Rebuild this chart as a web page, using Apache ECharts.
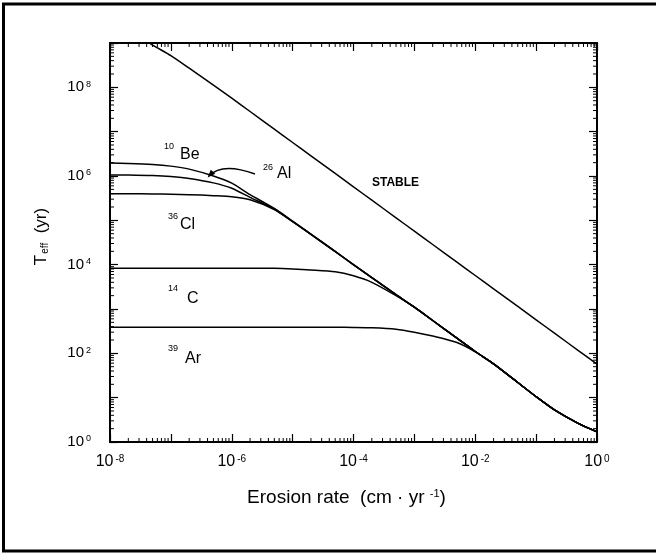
<!DOCTYPE html>
<html lang="en">
<head>
<meta charset="utf-8">
<title>Effective exposure time vs erosion rate</title>
<script src="https://cdn.jsdelivr.net/npm/echarts@6/dist/echarts.min.js"></script>
<style>
    html, body { margin: 0; padding: 0; background: #fff; }
    #main { width: 656px; height: 556px; }
</style>
</head>
<body>
<div id="main"></div>
<script type="text/javascript">

    // erosion rate, cm/yr
    var erosion = [1e-8, 2e-8, 5e-8, 1e-7, 2e-7, 5e-7, 1e-6, 2e-6, 5e-6, 1e-5, 2e-5, 5e-5,
                   1e-4, 2e-4, 5e-4, 1e-3, 2e-3, 5e-3, 1e-2, 2e-2, 5e-2, 0.1, 0.2, 0.5, 1];

    // T_eff (yr) at each erosion rate
    var stable = [3.5e9, 2.0e9, 9.0e8, 5.2e8, 2.7e8, 1.12e8, 5.7e7, 2.85e7, 1.14e7, 5.7e6, 2.85e6, 1.14e6,
                  5.7e5, 2.85e5, 1.14e5, 5.7e4, 2.85e4, 1.14e4, 5700, 2850, 1140, 570, 285, 114, 57];
    var be10 = [1.96e6, 1.92e6, 1.82e6, 1.67e6, 1.43e6, 1.0e6, 6.9e5, 3.8e5, 1.85e5, 9.6e4, 4.9e4, 2.0e4,
                1.0e4, 5.1e3, 2.1e3, 1.1e3, 550, 220, 110, 58, 22, 10.5, 5.3, 2.6, 1.7];
    var al26 = [1.06e6, 1.05e6, 1.02e6, 9.7e5, 8.8e5, 7.0e5, 5.3e5, 3.3e5, 1.8e5, 9.4e4, 4.85e4, 2.0e4,
                1.0e4, 5.1e3, 2.1e3, 1.1e3, 550, 220, 110, 58, 22, 10.5, 5.3, 2.6, 1.7];
    var cl36 = [3.98e5, 3.97e5, 3.93e5, 3.88e5, 3.8e5, 3.6e5, 3.4e5, 2.9e5, 1.75e5, 9.3e4, 4.8e4, 1.97e4,
                9.9e3, 5.1e3, 2.1e3, 1.1e3, 550, 220, 110, 58, 22, 10.5, 5.3, 2.6, 1.7];
    var c14 = [8300, 8300, 8300, 8300, 8300, 8300, 8300, 8300, 8250, 8000, 7600, 6900,
               5600, 4000, 2000, 1100, 550, 220, 110, 58, 22, 10.5, 5.3, 2.6, 1.7];
    var ar39 = [390, 390, 390, 390, 390, 390, 390, 390, 390, 390, 390, 388,
                385, 378, 350, 300, 245, 175, 108, 58, 22, 10.5, 5.3, 2.6, 1.7];

    // axis decades and log minor tick multiples
    var xDecades = [-8, -7, -6, -5, -4, -3, -2, -1];
    var yDecades = [0, 1, 2, 3, 4, 5, 6, 7, 8];
    var minorSteps = [2, 3, 4, 5, 6, 7, 8, 9];

    var xMin = 1e-8, xMax = 1, yMin = 1, yMax = 1e9;
    var font = '"Liberation Sans", Arial, sans-serif';

    var dom = document.getElementById('main');
    var myChart = echarts.init(dom, null, { renderer: 'canvas' });

    function pairs(vals) {
        return erosion.map(function (e, i) { return [e, vals[i]]; });
    }

    function powLabel(v) {
        var e = Math.round(Math.log(v) / Math.LN10);
        if (e % 2 !== 0) return '';
        return '{b|10}{s|' + e + '}';
    }

    function labelRich(size, supSize) {
        return {
            b: { fontSize: size, fontFamily: font, color: '#000', lineHeight: size, verticalAlign: 'bottom' },
            s: { fontSize: supSize, fontFamily: font, color: '#000', lineHeight: supSize,
                 verticalAlign: 'top', padding: [0, 0, size - supSize + 7, 2] }
        };
    }

    var xMinor = [], yMinor = [];
    xDecades.forEach(function (d) {
        minorSteps.forEach(function (m) { xMinor.push([m * Math.pow(10, d), yMin]); });
    });
    yDecades.forEach(function (d) {
        minorSteps.forEach(function (m) { yMinor.push([xMin, m * Math.pow(10, d)]); });
    });

    var tickStyle = { stroke: '#000', lineWidth: 1 };
    var minorLen = 4;

    function renderMinorX(params, api) {
        var b = api.coord([api.value(0), yMin]);
        var t = api.coord([api.value(0), yMax]);
        return {
            type: 'group', children: [
                { type: 'line', shape: { x1: b[0], y1: b[1], x2: b[0], y2: b[1] - minorLen }, style: tickStyle },
                { type: 'line', shape: { x1: t[0], y1: t[1], x2: t[0], y2: t[1] + minorLen }, style: tickStyle }
            ]
        };
    }
    function renderMinorY(params, api) {
        var l = api.coord([xMin, api.value(1)]);
        var r = api.coord([xMax, api.value(1)]);
        return {
            type: 'group', children: [
                { type: 'line', shape: { x1: l[0], y1: l[1], x2: l[0] + minorLen, y2: l[1] }, style: tickStyle },
                { type: 'line', shape: { x1: r[0], y1: r[1], x2: r[0] - minorLen, y2: r[1] }, style: tickStyle }
            ]
        };
    }

    function curve(name, vals) {
        return {
            name: name,
            type: 'line',
            data: pairs(vals),
            symbol: 'none',
            smooth: 0.25,
            lineStyle: { color: '#000', width: 1.5 },
            silent: true
        };
    }

    var baseAxis = {
        type: 'log',
        logBase: 10,
        interval: 1,
        axisLine: { show: true, lineStyle: { color: '#000', width: 2 } },
        axisTick: { show: true, inside: true, length: 8, lineStyle: { color: '#000', width: 1.2 } },
        splitLine: { show: false },
        minorTick: { show: false }
    };

    // superscript / main text pairs for the curve annotations
    function annot(sup, main, sx, sy, mx, my) {
        return [
            { type: 'text', x: sx, y: sy, style: { text: sup, font: '9px ' + font, fill: '#000', verticalAlign: 'middle' } },
            { type: 'text', x: mx, y: my, style: { text: main, font: '16px ' + font, fill: '#000', verticalAlign: 'middle' } }
        ];
    }

    var graphics = [
        { type: 'rect', shape: { x: 3.5, y: 4, width: 700, height: 547 },
          style: { fill: 'none', stroke: '#000', lineWidth: 3 }, z: 100 },
        { type: 'text', x: 372, y: 183,
          style: { text: 'STABLE', font: 'bold 12px ' + font, fill: '#000', verticalAlign: 'middle' } },
        { type: 'bezierCurve', shape: { x1: 255, y1: 174, cpx1: 222, cpy1: 162, x2: 209, y2: 176 },
          style: { stroke: '#000', lineWidth: 1.5, fill: 'none' } },
        { type: 'polygon', shape: { points: [[207.6, 177.5], [215.2, 173.7], [210.8, 169.7]] },
          style: { fill: '#000' } }
    ]
        .concat(annot('10', 'Be', 164, 146.5, 180, 155))
        .concat(annot('26', 'Al', 263, 168, 277, 174))
        .concat(annot('36', 'Cl', 168, 216.5, 180, 225))
        .concat(annot('14', 'C', 168, 288.5, 187, 298.5))
        .concat(annot('39', 'Ar', 168, 349, 185, 358.5));

    var option = {
        animation: false,
        backgroundColor: '#fff',
        grid: { left: 110, right: 59, top: 43, bottom: 114, containLabel: false, outerBoundsMode: 'none' },
        xAxis: [
            Object.assign({}, baseAxis, {
                position: 'bottom', min: xMin, max: xMax,
                name: '{n|Erosion rate  (cm · yr }{s|-1}{n|)}',
                nameLocation: 'middle', nameGap: 46,
                nameTextStyle: {
                    padding: [0, 14, 0, 0],
                    rich: {
                        n: { fontSize: 19, fontFamily: font, color: '#000', lineHeight: 19, verticalAlign: 'bottom' },
                        s: { fontSize: 11, fontFamily: font, color: '#000', lineHeight: 11, verticalAlign: 'top', padding: [0, 0, 11, 0] }
                    }
                },
                axisLabel: { show: true, interval: 0, margin: 12, formatter: powLabel, rich: labelRich(16, 10) }
            }),
            Object.assign({}, baseAxis, {
                position: 'top', min: xMin, max: xMax,
                axisLabel: { show: false }
            })
        ],
        yAxis: [
            Object.assign({}, baseAxis, {
                position: 'left', min: yMin, max: yMax,
                name: '{t|T}{u|eff}{t|  (yr)}',
                nameLocation: 'middle', nameGap: 60, nameRotate: 90,
                nameTextStyle: {
                    padding: [0, 0, 0, 12],
                    rich: {
                        t: { fontSize: 17, fontFamily: font, color: '#000', lineHeight: 17, verticalAlign: 'top' },
                        u: { fontSize: 10, fontFamily: font, color: '#000', lineHeight: 10, verticalAlign: 'bottom', padding: [9, 0, 0, 1] }
                    }
                },
                axisLabel: { show: true, interval: 0, margin: 19, formatter: powLabel, rich: labelRich(15, 9) }
            }),
            Object.assign({}, baseAxis, {
                position: 'right', min: yMin, max: yMax,
                axisLabel: { show: false }
            })
        ],
        series: [
            curve('STABLE', stable),
            curve('10Be', be10),
            curve('26Al', al26),
            curve('36Cl', cl36),
            curve('14C', c14),
            curve('39Ar', ar39),
            {
                type: 'custom', name: 'xMinor', renderItem: renderMinorX, data: xMinor,
                encode: { x: 0, y: 1 }, silent: true, z: 5, clip: false
            },
            {
                type: 'custom', name: 'yMinor', renderItem: renderMinorY, data: yMinor,
                encode: { x: 0, y: 1 }, silent: true, z: 5, clip: false
            }
        ],
        graphic: graphics
    };

    myChart.setOption(option);
    window.addEventListener('resize', myChart.resize);
</script>
</body>
</html>
